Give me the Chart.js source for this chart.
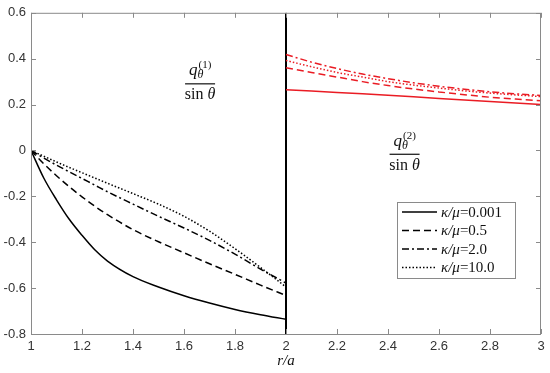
<!DOCTYPE html>
<html>
<head>
<meta charset="utf-8">
<script src="https://cdn.jsdelivr.net/npm/chart.js@4"></script>
<style>
  html, body { margin: 0; padding: 0; background: #fff; }
  #wrap { width: 550px; height: 373px; }
</style>
</head>
<body>
<div id="wrap"><canvas id="chart"></canvas></div>
<script>
// r/a values, left part (q1) and right part (q2)
const xLeft = [1, 1.05, 1.1, 1.15, 1.2, 1.25, 1.3, 1.4, 1.5, 1.6, 1.7, 1.8, 1.9, 2]
const xRight = [2, 2.1, 2.2, 2.3, 2.4, 2.5, 2.6, 2.7, 2.8, 2.9, 3]

const ratios = ['0.001', '0.5', '2.0', '10.0']

// q1 / sin(theta), black
const q1Solid = [0, -0.12, -0.215, -0.3, -0.37, -0.433, -0.482, -0.55, -0.595, -0.633, -0.665, -0.693, -0.716, -0.736]
const q1Dashed = [0, -0.058, -0.11, -0.158, -0.202, -0.243, -0.28, -0.345, -0.398, -0.446, -0.494, -0.54, -0.587, -0.632]
const q1DashDot = [0, -0.033, -0.064, -0.093, -0.122, -0.151, -0.18, -0.234, -0.287, -0.338, -0.392, -0.452, -0.517, -0.578]
const q1Dotted = [0, -0.025, -0.05, -0.074, -0.097, -0.12, -0.143, -0.188, -0.234, -0.287, -0.352, -0.428, -0.51, -0.595]

// q2 / sin(theta), red
const q2Solid = [0.265, 0.259, 0.253, 0.247, 0.241, 0.234, 0.227, 0.22, 0.213, 0.207, 0.2]
const q2Dashed = [0.36, 0.34, 0.32, 0.3, 0.283, 0.268, 0.255, 0.243, 0.232, 0.224, 0.217]
const q2DashDot = [0.418, 0.385, 0.357, 0.333, 0.313, 0.295, 0.28, 0.267, 0.256, 0.247, 0.24]
const q2Dotted = [0.392, 0.365, 0.34, 0.32, 0.3, 0.285, 0.272, 0.26, 0.25, 0.242, 0.235]

const divider = [{ x: 2, y: -0.8 }, { x: 2, y: 0.6 }]

const dashes = [[], [7, 4], [7, 3, 2, 3], [1.5, 2]]
const RED = '#ea1c24'
const SERIF = '"Liberation Serif", "DejaVu Serif", serif'
const SANS = '"Liberation Sans", Arial, sans-serif'

const pts = (xs, ys) => xs.map((x, i) => ({ x, y: ys[i] }))

function series(xs, ys, color, k, inLegend) {
  return {
    data: pts(xs, ys),
    label: inLegend ? 'κ/μ=' + ratios[k] : '',
    borderColor: color,
    borderWidth: 1.5,
    borderDash: dashes[k],
    pointRadius: 0,
    cubicInterpolationMode: 'monotone',
    fill: false,
    inLegend
  }
}

const datasets = [
  series(xLeft, q1Solid, '#000', 0, true),
  series(xLeft, q1Dashed, '#000', 1, true),
  series(xLeft, q1DashDot, '#000', 2, true),
  series(xLeft, q1Dotted, '#000', 3, true),
  series(xRight, q2Solid, RED, 0, false),
  series(xRight, q2Dashed, RED, 1, false),
  series(xRight, q2DashDot, RED, 2, false),
  series(xRight, q2Dotted, RED, 3, false),
  { data: divider, borderColor: '#000', borderWidth: 2, pointRadius: 0, fill: false }
]

// frame with inward ticks on all four sides (matlab style)
const framePlugin = {
  id: 'frame',
  afterDatasetsDraw(chart) {
    const { ctx, chartArea: a, scales } = chart
    ctx.save()
    ctx.strokeStyle = '#8a8a8a'
    ctx.lineWidth = 1
    ctx.strokeRect(a.left + 0.5, a.top + 0.5, a.right - a.left - 1, a.bottom - a.top)
    ctx.beginPath()
    scales.x.ticks.forEach(t => {
      const px = Math.round(scales.x.getPixelForValue(t.value)) + 0.5
      ctx.moveTo(px, a.bottom); ctx.lineTo(px, a.bottom - 5)
      ctx.moveTo(px, a.top); ctx.lineTo(px, a.top + 5)
    })
    scales.y.ticks.forEach(t => {
      const py = Math.round(scales.y.getPixelForValue(t.value)) + 0.5
      ctx.moveTo(a.left, py); ctx.lineTo(a.left + 5, py)
      ctx.moveTo(a.right, py); ctx.lineTo(a.right - 5, py)
    })
    ctx.stroke()
    ctx.restore()
  }
}

function fraction(ctx, cx, lineY, sup) {
  ctx.fillStyle = '#111'
  ctx.textBaseline = 'alphabetic'
  ctx.textAlign = 'left'
  // numerator q_theta^(n)
  ctx.font = 'italic 17px ' + SERIF
  const qw = ctx.measureText('q').width
  const qx = cx - 11
  ctx.fillText('q', qx, lineY - 8)
  ctx.font = 'italic 12px ' + SERIF
  ctx.fillText('θ', qx + qw, lineY - 5)
  ctx.font = '11px ' + SERIF
  ctx.fillText('(' + sup + ')', qx + qw + 1, lineY - 15)
  // bar
  ctx.fillRect(cx - 15, lineY, 30, 1.2)
  // denominator
  ctx.font = '16px ' + SERIF
  const sw = ctx.measureText('sin ').width
  ctx.font = 'italic 16px ' + SERIF
  const tw = ctx.measureText('θ').width
  const sx = cx - (sw + tw) / 2
  ctx.font = '16px ' + SERIF
  ctx.fillText('sin ', sx, lineY + 16)
  ctx.font = 'italic 16px ' + SERIF
  ctx.fillText('θ', sx + sw, lineY + 16)
}

const notePlugin = {
  id: 'notes',
  afterDraw(chart) {
    const { ctx, scales: { x, y }, chartArea: a } = chart
    ctx.save()
    fraction(ctx, x.getPixelForValue(1.663), y.getPixelForValue(0.293), 1)
    fraction(ctx, x.getPixelForValue(2.465), y.getPixelForValue(-0.014), 2)

    // legend box
    const items = chart.data.datasets.filter(d => d.inLegend)
    const bx = a.right - 144, by = 202, bw = 118, bh = 76
    ctx.fillStyle = '#fff'
    ctx.fillRect(bx, by, bw, bh)
    ctx.strokeStyle = '#8a8a8a'
    ctx.lineWidth = 1
    ctx.strokeRect(bx + 0.5, by + 0.5, bw, bh)
    items.forEach((d, i) => {
      const ry = by + 10 + i * 18.5
      ctx.strokeStyle = d.borderColor
      ctx.lineWidth = 1.5
      ctx.setLineDash(d.borderDash)
      ctx.beginPath()
      ctx.moveTo(bx + 5, ry); ctx.lineTo(bx + 40, ry)
      ctx.stroke()
      ctx.setLineDash([])
      ctx.fillStyle = '#111'
      ctx.textBaseline = 'middle'
      ctx.textAlign = 'left'
      ctx.font = 'italic 15px ' + SERIF
      const head = 'κ/μ'
      ctx.fillText(head, bx + 44, ry + 1)
      const hw = ctx.measureText(head).width
      ctx.font = '15px ' + SERIF
      ctx.fillText(d.label.slice(head.length), bx + 44 + hw, ry + 1)
    })
    ctx.restore()
  }
}

const tickFmt = v => String(+(+v).toFixed(1))

new Chart(document.getElementById('chart'), {
  type: 'line',
  data: { datasets },
  options: {
    responsive: true,
    maintainAspectRatio: false,
    animation: false,
    layout: { padding: { top: 12, right: 9, left: 0, bottom: 0 } },
    plugins: { legend: { display: false }, tooltip: { enabled: false } },
    scales: {
      x: {
        type: 'linear',
        min: 1,
        max: 3,
        afterFit: s => { s.height = 39 },
        grid: { display: false, drawTicks: false },
        border: { display: false },
        ticks: { stepSize: 0.2, padding: 5, color: '#333', font: { family: SANS, size: 13 }, callback: tickFmt, maxRotation: 0, autoSkip: false },
        title: { display: true, text: 'r/a', color: '#111', padding: { top: 0, bottom: 3 }, font: { family: SERIF, size: 15, style: 'italic' } }
      },
      y: {
        min: -0.8,
        max: 0.6,
        afterFit: s => { s.width = 31 },
        grid: { display: false, drawTicks: false },
        border: { display: false },
        ticks: { stepSize: 0.2, padding: 5, color: '#333', font: { family: SANS, size: 13 }, callback: tickFmt }
      }
    }
  },
  plugins: [framePlugin, notePlugin]
})
</script>
</body>
</html>
